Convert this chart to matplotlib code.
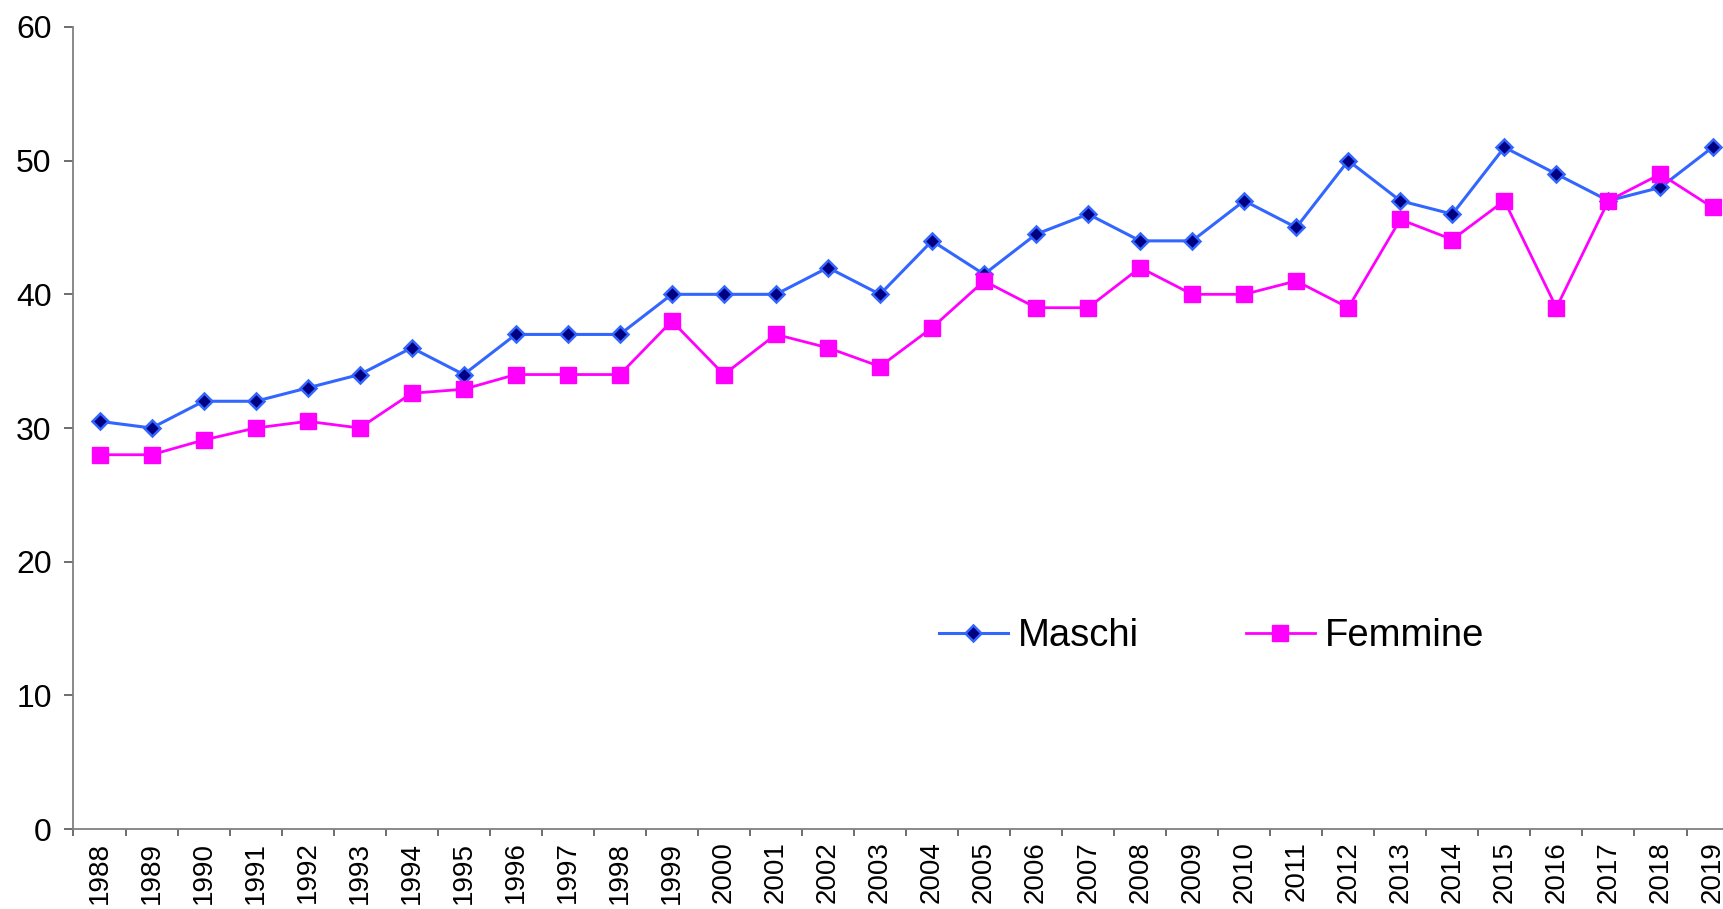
import matplotlib.pyplot as plt
import numpy as np

plt.rcParams["font.family"] = ["Liberation Sans", "DejaVu Sans"]

# Data
years = [str(y) for y in range(1988, 2020)]
maschi = [30.5, 30, 32, 32, 33, 34, 36, 34, 37, 37, 37, 40, 40, 40, 42, 40,
          44, 41.5, 44.5, 46, 44, 44, 47, 45, 50, 47, 46, 51, 49, 47, 48, 51]
femmine = [28, 28, 29.1, 30, 30.5, 30, 32.6, 32.9, 34, 34, 34, 38, 34, 37, 36, 34.6,
           37.5, 41, 39, 39, 42, 40, 40, 41, 39, 45.6, 44.1, 47, 39, 47, 49, 46.5]
y_ticks = [0, 10, 20, 30, 40, 50, 60]

fig = plt.figure(figsize=(17.24, 9.09), dpi=100)
# axes runs a little past the right edge, as in the original
ax = fig.add_axes([0.04263, 0.0880, 0.9658, 0.8823])

x = np.arange(len(years))
ax.plot(x, maschi, color="#3366FF", lw=2.2, marker="D", ms=8,
        mfc="#000080", mec="#3366FF", mew=1.8, label="Maschi")
ax.plot(x, femmine, color="#FF00FF", lw=2.0, marker="s", ms=11,
        mfc="#FF00FF", mec="#FF00FF", label="Femmine")

ax.set_xlim(-0.5, len(years) - 0.5)
ax.set_ylim(0, 60)
ax.set_yticks(y_ticks)
ax.set_xticks(x)
ax.set_xticklabels(years, rotation=90, fontsize=20)
ax.set_xticks(np.arange(len(years) + 1) - 0.5, minor=True)
ax.tick_params(axis="x", which="major", length=0, pad=9)
ax.tick_params(axis="x", which="minor", length=5, width=1.2, color="#555555")
ax.tick_params(axis="y", labelsize=23, length=6.7, width=1.2, color="#555555", pad=9)

for side in ["top", "right"]:
    ax.spines[side].set_visible(False)
for side in ["left", "bottom"]:
    ax.spines[side].set_color("#808080")
    ax.spines[side].set_linewidth(1.3)

ax.legend(loc="center left", bbox_to_anchor=(939 / 1724, 1 - 636 / 909),
          bbox_transform=fig.transFigure, ncol=2, frameon=False, fontsize=27.5,
          handlelength=1.8, handletextpad=0.26, columnspacing=2.8,
          borderpad=0, borderaxespad=0, numpoints=1)

fig.savefig("out.png", dpi=100)
